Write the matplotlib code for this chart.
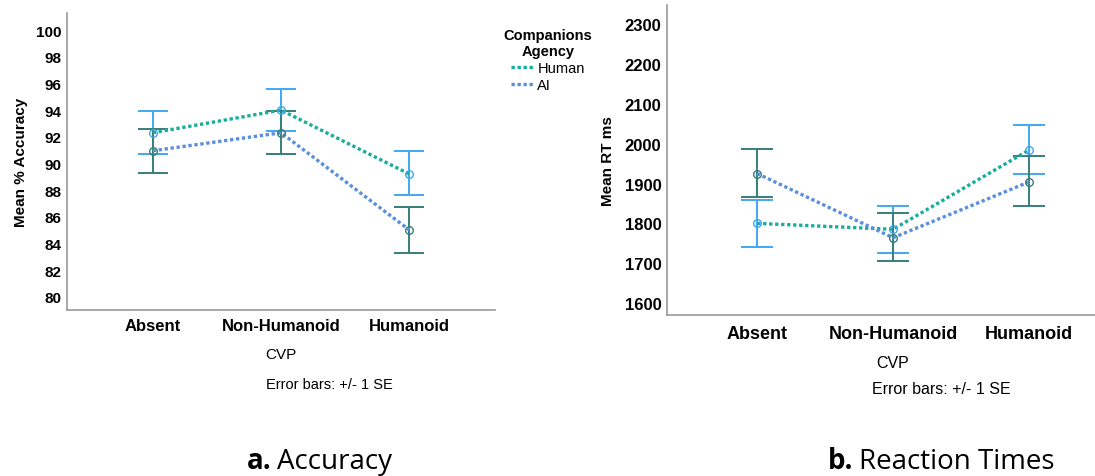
import matplotlib.pyplot as plt

plt.rcParams['font.family'] = ['Liberation Sans', 'DejaVu Sans']

cvp = ['Absent', 'Non-Humanoid', 'Humanoid']

# accuracy (%)
acc_human = [92.3, 94.0, 89.2]
acc_human_lo = [90.7, 92.4, 87.6]
acc_human_hi = [93.9, 95.6, 90.9]
acc_ai = [90.95, 92.3, 85.0]
acc_ai_lo = [89.3, 90.7, 83.3]
acc_ai_hi = [92.6, 93.9, 86.7]

# reaction time (ms)
rt_human = [1800, 1785, 1984]
rt_human_lo = [1740, 1725, 1924]
rt_human_hi = [1859, 1843, 2046]
rt_ai = [1925, 1764, 1904]
rt_ai_lo = [1865, 1705, 1843]
rt_ai_hi = [1987, 1827, 1968]

teal = '#17AE9C'
blue = '#5B8EDE'
light_blue = '#40A8EE'
dark_teal = '#367F7A'


def panel(ax, human, hlo, hhi, ai, alo, ahi, fs, cap):
    x = range(len(cvp))
    ax.errorbar(x, human, yerr=[[m - l for m, l in zip(human, hlo)], [h - m for m, h in zip(human, hhi)]],
                fmt='none', ecolor=light_blue, elinewidth=1.4, capsize=cap, capthick=1.4, zorder=2)
    ax.errorbar(x, ai, yerr=[[m - l for m, l in zip(ai, alo)], [h - m for m, h in zip(ai, ahi)]],
                fmt='none', ecolor=dark_teal, elinewidth=1.4, capsize=cap, capthick=1.4, zorder=2)
    ax.plot(x, human, ls=(0, (1, 0.8)), color=teal, lw=2.4, zorder=3, label='Human')
    ax.plot(x, ai, ls=(0, (1, 0.8)), color=blue, lw=2.4, zorder=3, label='AI')
    ax.plot(x, human, 'o', mfc='none', mec=light_blue, ms=5.5, mew=1, zorder=4)
    ax.plot(x, ai, 'o', mfc='none', mec=dark_teal, ms=5.5, mew=1, zorder=4)
    ax.set_xticks(list(x))
    ax.set_xticklabels(cvp, fontweight='bold')
    ax.tick_params(length=0, labelsize=fs)
    for s in ['top', 'right']:
        ax.spines[s].set_visible(False)
    for s in ['left', 'bottom']:
        ax.spines[s].set_color('#9a9a9a')
        ax.spines[s].set_linewidth(1.2)


fig = plt.figure(figsize=(10.95, 4.77), dpi=100)

ax1 = fig.add_axes([0.0612, 0.348, 0.391, 0.623])
panel(ax1, acc_human, acc_human_lo, acc_human_hi, acc_ai, acc_ai_lo, acc_ai_hi, 11, 11)
ax1.set_ylim(79.0, 101.3)
ax1.set_yticks(range(80, 101, 2))
ax1.set_xlim(-0.668, 2.668)
ax1.tick_params(axis='y', pad=4, labelsize=11)
ax1.tick_params(axis='x', pad=6, labelsize=12)
for lab in ax1.get_yticklabels():
    lab.set_fontweight('bold')
ax1.set_ylabel('Mean % Accuracy', fontweight='bold', fontsize=11, labelpad=6)

ax2 = fig.add_axes([0.609, 0.3375, 0.391, 0.650])
panel(ax2, rt_human, rt_human_lo, rt_human_hi, rt_ai, rt_ai_lo, rt_ai_hi, 12, 11.5)
ax2.set_ylim(1570, 2348)
ax2.set_yticks(range(1600, 2301, 100))
ax2.set_xlim(-0.664, 2.485)
ax2.tick_params(axis='y', pad=4, labelsize=12)
ax2.tick_params(axis='x', pad=7, labelsize=13)
for lab in ax2.get_yticklabels():
    lab.set_fontweight('bold')
ax2.set_ylabel('Mean RT ms', fontweight='bold', fontsize=11, labelpad=7)

W, H = 1095, 477
fig.text(281 / W, 1 - 355 / H, 'CVP', ha='center', va='center', fontsize=11)
fig.text(329 / W, 1 - 385 / H, 'Error bars: +/- 1 SE', ha='center', va='center', fontsize=10.5)
fig.text(893 / W, 1 - 363 / H, 'CVP', ha='center', va='center', fontsize=11.5)
fig.text(941 / W, 1 - 390 / H, 'Error bars: +/- 1 SE', ha='center', va='center', fontsize=11.5)

# legend
handles, labels = ax1.get_legend_handles_labels()
leg = fig.legend(handles, labels, loc='upper center', bbox_to_anchor=(548 / W, 1 - 16 / H),
                 title='Companions\nAgency', frameon=False, fontsize=10.5, handlelength=1.6,
                 handletextpad=0.2, labelspacing=0.2)
leg.get_title().set_fontweight('bold')
leg.get_title().set_fontsize(10.5)
leg.get_title().set_multialignment('center')

# captions
fig.text(272 / W, 1 - 462 / H, 'a.', ha='right', va='center', fontsize=20, fontweight='bold', family='Open Sans')
fig.text(277 / W, 1 - 462 / H, 'Accuracy', ha='left', va='center', fontsize=20, family='Open Sans')
fig.text(853 / W, 1 - 462 / H, 'b.', ha='right', va='center', fontsize=20, fontweight='bold', family='Open Sans')
fig.text(859 / W, 1 - 462 / H, 'Reaction Times', ha='left', va='center', fontsize=20, family='Open Sans')

fig.savefig('out.png', dpi=100)
